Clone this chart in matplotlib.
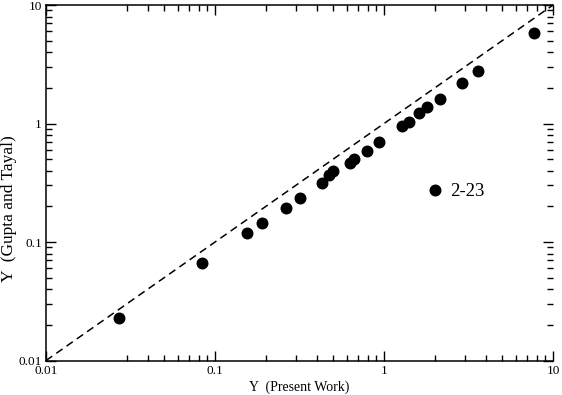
import matplotlib
matplotlib.use("Agg")
import matplotlib.pyplot as plt
from matplotlib.ticker import FixedLocator, NullFormatter, LogLocator

# Y values: present work vs Gupta and Tayal
present_work = [0.0270, 0.0834, 0.154, 0.189, 0.262, 0.318, 0.428, 0.475, 0.501,
                0.629, 0.664, 0.790, 0.934, 1.28, 1.41, 1.62, 1.79, 2.14, 2.88,
                3.61, 7.75]
gupta_tayal = [0.0227, 0.0668, 0.118, 0.1455, 0.192, 0.2365, 0.316, 0.368, 0.395,
               0.467, 0.499, 0.589, 0.694, 0.953, 1.035, 1.23, 1.37, 1.61, 2.18,
               2.77, 5.84]
series_label = "2-23"

axis_min, axis_max = 0.01, 10
major_ticks = [0.01, 0.1, 1, 10]
major_labels = ["0.01", "0.1", "1", "10"]

plt.rcParams["font.family"] = ["Liberation Serif", "DejaVu Serif"]

fig = plt.figure(figsize=(5.62, 3.95), dpi=100)
ax = fig.add_axes([0.0819, 0.0873, 0.9021, 0.900])

# y = x reference line
ax.plot([axis_min, axis_max], [axis_min, axis_max], color="black", lw=1.1,
        dashes=(5, 3.2))
ax.plot(present_work, gupta_tayal, "o", color="black", ms=7.6, label=series_label)

ax.set_xscale("log")
ax.set_yscale("log")
ax.set_xlim(axis_min, axis_max)
ax.set_ylim(axis_min, axis_max)

ax.set_xticks(major_ticks)
ax.set_xticklabels(major_labels)
ax.set_yticks(major_ticks)
ax.set_yticklabels(major_labels)

# the original has no minor tick at 0.02 on the x axis
x_minor = [m * d for d in (0.01, 0.1, 1) for m in range(2, 10)]
x_minor = [v for v in x_minor if abs(v - 0.02) > 1e-9]
ax.xaxis.set_minor_locator(FixedLocator(x_minor))
ax.yaxis.set_minor_locator(LogLocator(base=10, subs=range(2, 10)))
ax.xaxis.set_minor_formatter(NullFormatter())
ax.yaxis.set_minor_formatter(NullFormatter())

ax.tick_params(which="both", direction="in", top=True, right=True,
               width=1.0, labelsize=9.5, pad=3)
ax.tick_params(which="major", length=7)
ax.tick_params(which="minor", length=4)

for side in ("left", "bottom", "top"):
    ax.spines[side].set_linewidth(1.1)
ax.spines["right"].set_visible(False)

ax.set_xlabel("Y  (Present Work)", fontsize=10, labelpad=3)
ax.set_ylabel("Y  (Gupta and Tayal)", fontsize=12.5)
ax.yaxis.set_label_coords(-0.058, 0.426)

ax.legend(loc="center left", bbox_to_anchor=(0.715, 0.475), frameon=False,
          fontsize=13.5, numpoints=1, handlelength=1.0, handletextpad=0.33)

fig.savefig("out.png", dpi=100)
